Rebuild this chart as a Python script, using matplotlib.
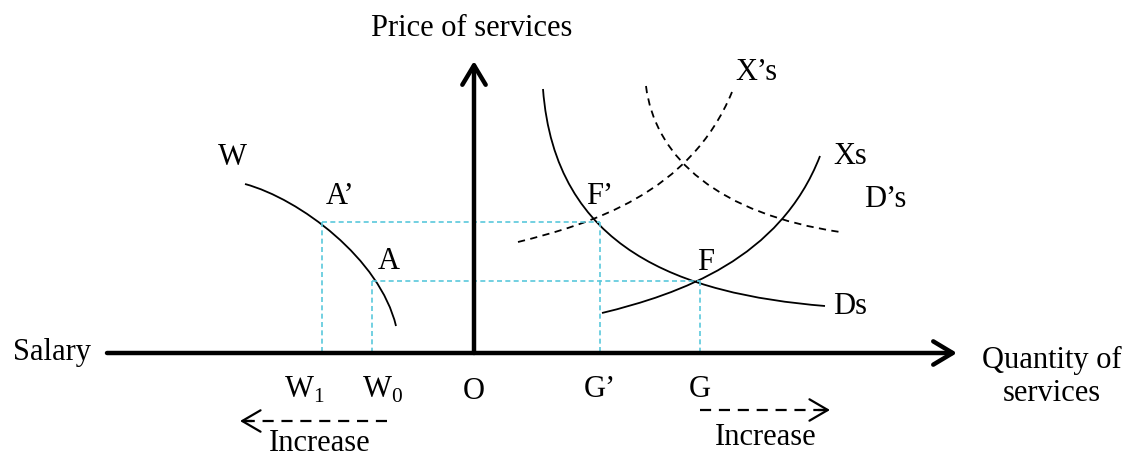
import matplotlib.pyplot as plt
from matplotlib.path import Path
from matplotlib.patches import PathPatch

plt.rcParams['font.family'] = ['Liberation Serif', 'DejaVu Serif']

# canvas in pixel units, y grows downward
origin = (474, 354)
x_axis_start = 107
x_axis_end = 957
y_axis_top = 62

# curves as cubic bezier control points
w_curve = [(245, 185), (300, 200), (380, 260), (396, 327)]
ds_curve = [(543, 90), (555, 250), (680, 295), (825, 307)]
xs_curve = [(602, 314), (680, 295), (780, 260), (820, 157)]
xps_curve = [(518, 243), (590, 225), (690, 195), (732, 93)]
dps_curve = [(646, 87), (655, 160), (720, 215), (840, 233)]

# equilibrium points
pt_a1 = (322, 223)   # A'
pt_a0 = (372, 282)   # A
pt_f1 = (600, 223)   # F'
pt_f0 = (700, 282)   # F

labels = [
    ("W", 232, 158), ("A’", 340, 197), ("A", 389, 262),
    ("F’", 600, 197), ("F", 706, 263), ("Ds", 850, 307),
    ("Xs", 850, 157), ("X’s", 756, 73), ("D’s", 885, 200),
    ("O", 474, 392), ("G’", 600, 390), ("G", 700, 390),
]
sub_labels = [("W", "1", 304, 390), ("W", "0", 382, 390)]

fig = plt.figure(figsize=(11.44, 4.6), dpi=100)
ax = fig.add_axes([0, 0, 1, 1])
ax.set_xlim(0, 1144)
ax.set_ylim(460, 0)
ax.axis('off')

cyan = '#5ac8dc'
# guide lines
for (px, py), (qx, qy) in [(pt_a1, pt_f1), (pt_a0, pt_f0)]:
    ax.plot([px, qx], [py, qy], color=cyan, ls='--', lw=1.2, dashes=(3, 2))
for px, py in [pt_a1, pt_a0, pt_f1, pt_f0]:
    ax.plot([px, px], [py, origin[1]], color=cyan, ls='--', lw=1.2, dashes=(3, 2))


def bez(pts, ls='-'):
    p = Path(pts, [Path.MOVETO, Path.CURVE4, Path.CURVE4, Path.CURVE4])
    ax.add_patch(PathPatch(p, fc='none', ec='black', lw=1.3, ls=ls))


bez(w_curve)
bez(ds_curve)
bez(xs_curve)
bez(xps_curve, ls=(0, (4, 3)))
bez(dps_curve, ls=(0, (4, 3)))

# axes with arrows
ax.annotate('', xy=(x_axis_end, origin[1]), xytext=(x_axis_start, origin[1]),
            arrowprops=dict(arrowstyle='->,head_length=0.5,head_width=0.3', lw=3.2,
                            mutation_scale=28, color='black', shrinkA=0, shrinkB=0))
ax.annotate('', xy=(origin[0], y_axis_top), xytext=origin,
            arrowprops=dict(arrowstyle='->,head_length=0.5,head_width=0.3', lw=3.2,
                            mutation_scale=28, color='black', shrinkA=0, shrinkB=0))

fs = 22
for t, x, y in labels:
    ax.text(x, y, t, fontsize=fs, ha='center', va='center')
for t, s, x, y in sub_labels:
    ax.text(x, y, t + r'$_{\mathregular{' + s + '}}$', fontsize=fs, ha='center', va='center')

ax.text(472, 28, "Price of services", fontsize=fs, ha='center', va='center')
ax.text(52, 353, "Salary", fontsize=fs, ha='center', va='center')
ax.text(1052, 377, "Quantity of\nservices", fontsize=fs, ha='center', va='center',
        linespacing=1.2)


# increase arrows: dashed shaft with a solid open head
def increase_arrow(x0, x1, y):
    ax.plot([x0, x1], [y, y], color='black', lw=1.6, dashes=(5, 3.5))
    d = 1 if x1 > x0 else -1
    ax.annotate('', xy=(x1, y), xytext=(x1 - d * 12, y),
                arrowprops=dict(arrowstyle='->,head_length=0.6,head_width=0.35', lw=1.6,
                                mutation_scale=22, color='black', shrinkA=0, shrinkB=0))


increase_arrow(387, 240, 422)
ax.text(320, 444, "Increase", fontsize=fs, ha='center', va='center')
increase_arrow(700, 830, 411)
ax.text(766, 438, "Increase", fontsize=fs, ha='center', va='center')

fig.savefig('out.png', dpi=100)
